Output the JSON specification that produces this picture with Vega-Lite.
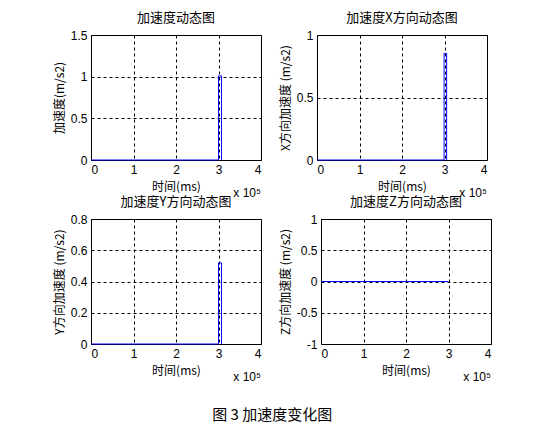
{
  "$schema": "https://vega.github.io/schema/vega-lite/v6.json",
  "description": "加速度变化图: four MATLAB-style subplots",
  "padding": {"left": 52, "top": 11, "right": 10, "bottom": 8},
  "title": {
    "text": "图 3  加速度变化图",
    "orient": "bottom",
    "anchor": "middle",
    "font": "Noto Sans CJK SC",
    "fontSize": 15,
    "fontWeight": "normal",
    "color": "black",
    "offset": 24
  },
  "data": {
    "values": [
      {"panel": "all", "i": 0, "t": 0, "v": 0},
      {"panel": "all", "i": 1, "t": 300000, "v": 0},
      {"panel": "all", "i": 2, "t": 300000, "v": 1.01},
      {"panel": "all", "i": 3, "t": 307000, "v": 1.01},
      {"panel": "all", "i": 4, "t": 307000, "v": 0},
      {"panel": "x", "i": 0, "t": 0, "v": 0},
      {"panel": "x", "i": 1, "t": 299000, "v": 0},
      {"panel": "x", "i": 2, "t": 299000, "v": 0.853},
      {"panel": "x", "i": 3, "t": 305000, "v": 0.853},
      {"panel": "x", "i": 4, "t": 305000, "v": 0},
      {"panel": "y", "i": 0, "t": 0, "v": 0},
      {"panel": "y", "i": 1, "t": 300000, "v": 0},
      {"panel": "y", "i": 2, "t": 300000, "v": 0.519},
      {"panel": "y", "i": 3, "t": 307000, "v": 0.519},
      {"panel": "y", "i": 4, "t": 307000, "v": 0},
      {"panel": "z", "i": 0, "t": 0, "v": 0},
      {"panel": "z", "i": 1, "t": 300000, "v": 0}
    ]
  },
  "spacing": -5,
  "vconcat": [
    {
      "spacing": 16,
      "hconcat": [
        {
          "width": 170,
          "height": 125,
          "title": "加速度动态图",
          "encoding": {
            "x": {"type": "quantitative", "title": "时间(ms)",
              "scale": {"domain": [0, 400000], "nice": false},
              "axis": {"values": [0, 100000, 200000, 300000, 400000], "labelExpr": "datum.value / 100000"}},
            "y": {"type": "quantitative", "title": "加速度(m/s2)",
              "scale": {"domain": [0, 1.5], "nice": false},
              "axis": {"values": [0, 0.5, 1, 1.5], "labelExpr": "'' + datum.value"}}
          },
          "layer": [
            {
              "transform": [{"filter": "datum.panel == 'all'"}],
              "mark": {"type": "line", "color": "#0000ff", "strokeWidth": 1},
              "encoding": {"x": {"field": "t"}, "y": {"field": "v"}, "order": {"field": "i"}}
            },
            {
              "data": {"values": [{}]},
              "mark": {"type": "text", "text": "x 10⁵", "align": "right", "baseline": "top", "dy": 28, "font": "Liberation Sans", "fontSize": 12},
              "encoding": {"x": {"datum": 400000}, "y": {"datum": 0}}
            }
          ]
        },
        {
          "width": 170,
          "height": 125,
          "title": "加速度X方向动态图",
          "encoding": {
            "x": {"type": "quantitative", "title": "时间(ms)",
              "scale": {"domain": [0, 400000], "nice": false},
              "axis": {"values": [0, 100000, 200000, 300000, 400000], "labelExpr": "datum.value / 100000"}},
            "y": {"type": "quantitative", "title": "X方向加速度 (m/s2)",
              "scale": {"domain": [0, 1], "nice": false},
              "axis": {"values": [0, 0.5, 1], "labelExpr": "'' + datum.value"}}
          },
          "layer": [
            {
              "transform": [{"filter": "datum.panel == 'x'"}],
              "mark": {"type": "line", "color": "#0000ff", "strokeWidth": 1},
              "encoding": {"x": {"field": "t"}, "y": {"field": "v"}, "order": {"field": "i"}}
            },
            {
              "data": {"values": [{}]},
              "mark": {"type": "text", "text": "x 10⁵", "align": "right", "baseline": "top", "dy": 28, "font": "Liberation Sans", "fontSize": 12},
              "encoding": {"x": {"datum": 400000}, "y": {"datum": 0}}
            }
          ]
        }
      ]
    },
    {
      "spacing": 16,
      "hconcat": [
        {
          "width": 170,
          "height": 125,
          "title": "加速度Y方向动态图",
          "encoding": {
            "x": {"type": "quantitative", "title": "时间(ms)",
              "scale": {"domain": [0, 400000], "nice": false},
              "axis": {"values": [0, 100000, 200000, 300000, 400000], "labelExpr": "datum.value / 100000"}},
            "y": {"type": "quantitative", "title": "Y方向加速度 (m/s2)",
              "scale": {"domain": [0, 0.8], "nice": false},
              "axis": {"values": [0, 0.2, 0.4, 0.6, 0.8], "labelExpr": "'' + datum.value"}}
          },
          "layer": [
            {
              "transform": [{"filter": "datum.panel == 'y'"}],
              "mark": {"type": "line", "color": "#0000ff", "strokeWidth": 1},
              "encoding": {"x": {"field": "t"}, "y": {"field": "v"}, "order": {"field": "i"}}
            },
            {
              "data": {"values": [{}]},
              "mark": {"type": "text", "text": "x 10⁵", "align": "right", "baseline": "top", "dy": 28, "font": "Liberation Sans", "fontSize": 12},
              "encoding": {"x": {"datum": 400000}, "y": {"datum": 0}}
            }
          ]
        },
        {
          "width": 170,
          "height": 125,
          "title": "加速度Z方向动态图",
          "encoding": {
            "x": {"type": "quantitative", "title": "时间(ms)",
              "scale": {"domain": [0, 400000], "nice": false},
              "axis": {"values": [0, 100000, 200000, 300000, 400000], "labelExpr": "datum.value / 100000"}},
            "y": {"type": "quantitative", "title": "Z方向加速度 (m/s2)",
              "scale": {"domain": [-1, 1], "nice": false},
              "axis": {"values": [-1, -0.5, 0, 0.5, 1], "labelExpr": "'' + datum.value"}}
          },
          "layer": [
            {
              "transform": [{"filter": "datum.panel == 'z'"}],
              "mark": {"type": "line", "color": "#0000ff", "strokeWidth": 1},
              "encoding": {"x": {"field": "t"}, "y": {"field": "v"}, "order": {"field": "i"}}
            },
            {
              "data": {"values": [{}]},
              "mark": {"type": "text", "text": "x 10⁵", "align": "right", "baseline": "top", "dy": 28, "font": "Liberation Sans", "fontSize": 12},
              "encoding": {"x": {"datum": 400000}, "y": {"datum": -1}}
            }
          ]
        }
      ]
    }
  ],
  "config": {
    "font": "Liberation Sans",
    "background": "white",
    "view": {"stroke": "black", "strokeWidth": 1},
    "axis": {
      "grid": true,
      "gridColor": "black",
      "gridDash": [3, 3],
      "gridOpacity": 1,
      "gridWidth": 1,
      "domain": false,
      "ticks": false,
      "labelOverlap": false,
      "labelFont": "Liberation Sans",
      "labelFontSize": 12,
      "labelColor": "black",
      "labelPadding": 4,
      "titleFont": "Noto Sans CJK SC",
      "titleFontSize": 12,
      "titleFontWeight": "normal",
      "titleColor": "black"
    },
    "axisY": {"titlePadding": 4},
    "axisX": {"titlePadding": 6},
    "title": {
      "font": "Noto Sans CJK SC",
      "fontSize": 13,
      "fontWeight": "normal",
      "color": "black",
      "offset": 0
    }
  }
}
